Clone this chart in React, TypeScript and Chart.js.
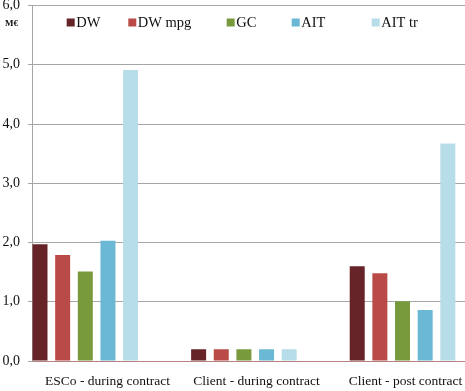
import { useEffect, useRef } from 'react';
import { Chart, registerables } from 'chart.js';

Chart.register(...registerables);

const categories = ['ESCo - during contract', 'Client - during contract', 'Client - post contract'];
const seriesNames = ['DW', 'DW mpg', 'GC', 'AIT', 'AIT tr'];
const dwValues = [1.97, 0.2, 1.6];
const dwMpgValues = [1.79, 0.2, 1.48];
const gcValues = [1.51, 0.2, 1.01];
const aitValues = [2.03, 0.2, 0.86];
const aitTrValues = [4.91, 0.2, 3.67];
const yTicks = [0, 1, 2, 3, 4, 5, 6];
const unitLabel = 'M€';

const seriesValues = [dwValues, dwMpgValues, gcValues, aitValues, aitTrValues];
const seriesColors = ['#662428', '#b94a48', '#789a3d', '#6bb8d5', '#b7dde8'];
const LEGEND_LEFT = [66.7, 128.3, 226.7, 291.7, 371.7];
const FONT = '"Liberation Serif", "Times New Roman", serif';

const overlayPlugin = {
  id: 'overlay',
  afterDraw(chart: any) {
    const ctx = chart.ctx;
    ctx.save();
    ctx.font = `14.5px ${FONT}`;
    ctx.textBaseline = 'alphabetic';
    ctx.textAlign = 'left';
    chart.data.datasets.forEach((ds: any, i: number) => {
      const x = LEGEND_LEFT[i];
      ctx.fillStyle = ds.backgroundColor;
      ctx.fillRect(x, 18.5, 8, 8);
      ctx.fillStyle = '#111';
      ctx.fillText(ds.label, x + 9.5, 27);
    });
    ctx.font = `bold 9px ${FONT}`;
    ctx.fillStyle = '#111';
    ctx.fillText(unitLabel, 5, 26);
    ctx.restore();
  },
};

export default function App() {
  const ref = useRef<HTMLCanvasElement | null>(null);
  useEffect(() => {
    document.body.style.margin = '0';
    const canvas = ref.current;
    if (!canvas) return;
    const chart = new Chart(canvas, {
      type: 'bar',
      data: {
        datasets: seriesNames.map((name, i) => ({
          label: name,
          data: seriesValues[i].map((y, j) => ({ x: j, y })),
          backgroundColor: seriesColors[i],
          borderWidth: 0,
          categoryPercentage: 0.714,
          barPercentage: 0.662,
          xAxisID: 'x',
        })),
      },
      options: {
        animation: false,
        responsive: false,
        layout: { padding: 0 },
        plugins: { legend: { display: false }, tooltip: { enabled: false } },
        scales: {
          x: {
            type: 'linear',
            display: false,
            offset: false,
            min: -0.3361,
            max: 2.394,
            afterBuildTicks: (s: any) => {
              s.ticks = categories.map((_, i) => ({ value: i }));
            },
          },
          x2: {
            type: 'linear',
            position: 'bottom',
            offset: false,
            min: -0.5067,
            max: 2.399,
            grid: { display: true, drawOnChartArea: false, drawTicks: false },
            border: { display: true, color: '#b98080', width: 1 },
            afterBuildTicks: (s: any) => {
              s.ticks = categories.map((_, i) => ({ value: i }));
            },
            afterFit: (s: any) => {
              s.height = 30;
              s.paddingLeft = 0;
              s.paddingRight = 0;
            },
            ticks: {
              autoSkip: false,
              maxRotation: 0,
              minRotation: 0,
              padding: 12,
              color: '#111',
              font: { family: FONT, size: 13.5 },
              callback: (v: any) => categories[Math.round(Number(v))] ?? '',
            },
          },
          y: {
            min: 0,
            max: 6,
            afterBuildTicks: (s: any) => {
              s.ticks = yTicks.map((v) => ({ value: v }));
            },
            afterFit: (s: any) => {
              s.width = 32;
              s.paddingTop = 5.5;
              s.paddingBottom = 0;
            },
            grid: { color: '#a6a6a6', tickLength: 4, lineWidth: 1 },
            border: { display: true, color: '#a6a6a6' },
            ticks: {
              padding: 8,
              color: '#111',
              font: { family: FONT, size: 14 },
              callback: (v: any) => Number(v).toFixed(1).replace('.', ','),
            },
          },
        },
      },
      plugins: [overlayPlugin],
    } as any);
    return () => chart.destroy();
  }, []);
  return (
    <div style={{ width: 465, height: 391 }}>
      <canvas ref={ref} width={465} height={391} />
    </div>
  );
}
